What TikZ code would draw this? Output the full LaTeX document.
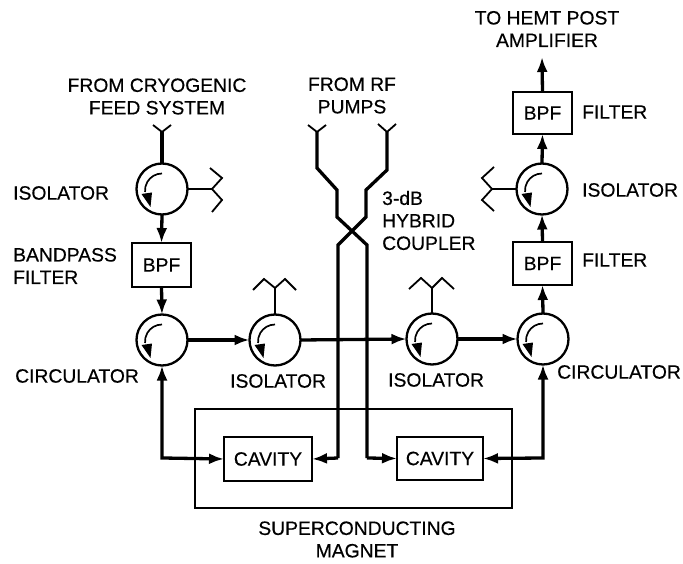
\documentclass[tikz,border=0pt]{standalone}
\usepackage{fontspec}
\setmainfont{Liberation Sans}[BoldFont={Liberation Sans},BoldFeatures={FakeBold=0.4}]
\usetikzlibrary{arrows.meta}
\tikzset{
  x=1pt,y=-1pt,
  lbl/.style={font=\fontsize{19.3}{22.5}\selectfont\bfseries,inner sep=0pt,align=left,anchor=west,text=black},
  lblc/.style={lbl,align=center,anchor=center},
  port/.style={circle,draw,line width=2.3pt,minimum size=51pt,inner sep=0pt,outer sep=0pt},
  boxa/.style={draw,line width=2.2pt,inner sep=0pt,outer sep=0pt,font=\fontsize{19.3}{22}\selectfont\bfseries},
  wire/.style={line width=3.3pt,line join=miter},
  thin wire/.style={line width=2.6pt,line join=miter},
  horn/.style={line width=1.8pt,line join=miter},
  tip/.style={-{Latex[length=15pt,width=11pt]}},
  tips/.style={{Latex[length=15pt,width=11pt]}-{Latex[length=15pt,width=11pt]}},
}
\newcommand{\swirl}[1]{%
  \draw[line width=1.7pt,shift={(#1)}] (0,-15.5) arc[start angle=-90,end angle=-185,radius=17];
  \fill[shift={(#1)}] (-20.5,5) -- (-11.5,18) -- (-10,3.5) -- cycle;
}
\begin{document}
\begin{tikzpicture}
\useasboundingbox (0,0) rectangle (683,564);
\fill[white] (0,0) rectangle (683,564);

% ports
\node[port] (iso1) at (162,189) {};
\node[port] (circ1) at (162,340) {};
\node[port] (iso2) at (275,340) {};
\node[port] (iso3) at (432,339) {};
\node[port] (circ2) at (543,339) {};
\node[port] (iso4) at (542,189) {};
\swirl{iso1}\swirl{circ1}\swirl{iso2}\swirl{iso3}\swirl{circ2}\swirl{iso4}

% boxes
\node[boxa,minimum width=59pt,minimum height=44pt] (bpf1) at (161.5,265) {BPF};
\node[boxa,minimum width=59pt,minimum height=43pt] (bpf2) at (542.5,263.5) {BPF};
\node[boxa,minimum width=59pt,minimum height=42pt] (bpf3) at (542.5,113) {BPF};
\node[boxa,minimum width=88pt,minimum height=44pt] (cav1) at (268,459) {CAVITY};
\node[boxa,minimum width=86pt,minimum height=43pt] (cav2) at (440,458.5) {CAVITY};
\node[draw,line width=2.4pt,minimum width=317pt,minimum height=99pt,inner sep=0pt,outer sep=0pt] (mag) at (353.5,458.5) {};

% free ends and corners
\coordinate (feed) at (162,132);
\coordinate (out) at (542,57);
\coordinate (pa) at (317,132);
\coordinate (pa1) at (317,168);
\coordinate (pa2) at (337,190);
\coordinate (pa3) at (337,217);
\coordinate (pa4) at (367,245);
\coordinate (pa5) at (367,458);
\coordinate (pb) at (387,132);
\coordinate (pb1) at (387,170);
\coordinate (pb2) at (366,190);
\coordinate (pb3) at (366,217);
\coordinate (pb4) at (338,245);
\coordinate (pb5) at (338,458);
\coordinate (cl) at (163,458);
\coordinate (cr) at (543,458);
\coordinate (h1) at (212,189);
\coordinate (h2) at (275,288);
\coordinate (h3) at (432,288);
\coordinate (h4) at (492,189);

% connectors
\draw[wire] (feed) -- (iso1.north);
\draw[wire,tip] (iso1.south) -- (bpf1.north);
\draw[wire,tip] (bpf1.south) -- (circ1.north);
\draw[wire,tip] (circ1.east) -- (iso2.west);
\draw[wire,tip] (iso2.east) -- (iso3.west);
\draw[wire,tip] (iso3.east) -- (circ2.west);
\draw[wire,tip] (circ2.north) -- (bpf2.south);
\draw[wire,tip] (bpf2.north) -- (iso4.south);
\draw[wire,tip] (iso4.north) -- (bpf3.south);
\draw[wire,tip] (bpf3.north) -- (out);
\draw[wire] (pa) -- (pa1) -- (pa2) -- (pa3) -- (pa4) -- (pa5);
\draw[wire,tip] (pa5) -- (cav2.west);
\draw[wire] (pb) -- (pb1) -- (pb2) -- (pb3) -- (pb4) -- (pb5);
\draw[wire,tip] (pb5) -- (cav1.east);
\draw[wire,tips] (circ1.south) -- (circ1.south |- cl) -- (cl) -- (cav1.west);
\draw[wire,tips] (circ2.south) -- (circ2.south |- cr) -- (cr) -- (cav2.east);
\draw[thin wire] (iso1.east) -- (h1);
\draw[thin wire] (iso4.west) -- (h4);
\draw[thin wire] (iso2.north) -- (h2);
\draw[thin wire] (iso3.north) -- (h3);

% horns
\draw[horn] (153,125) -- (feed) -- (171,125);
\draw[horn] (308,125) -- (pa) -- (326,125);
\draw[horn] (378,124) -- (pb) -- (396,124);
\draw[horn] (210,168) -- (222,178) -- (h1) -- (222,200) -- (212,212);
\draw[horn] (494,167) -- (482,178) -- (h4) -- (482,200) -- (494,211);
\draw[horn] (253,290) -- (264,279) -- (h2) -- (285,279) -- (296,290);
\draw[horn] (409,289) -- (421,278) -- (h3) -- (442,278) -- (454,289);

% labels
\node[lblc] (t1) at (157,96.5) {FROM CRYOGENIC\\FEED SYSTEM};
\node[lblc] (t2) at (352,95.5) {FROM RF\\PUMPS};
\node[lblc] (t3) at (547,29) {TO HEMT POST\\AMPLIFIER};
\node[lbl] (t4) at (13,193) {ISOLATOR};
\node[lbl] (t5) at (13,266) {BANDPASS\\FILTER};
\node[lbl] (t6) at (15,376) {CIRCULATOR};
\node[lbl] (t7) at (230,381) {ISOLATOR};
\node[lbl] (t8) at (388,380) {ISOLATOR};
\node[lbl] (t9) at (557,372) {CIRCULATOR};
\node[lbl] (t10) at (382,220.5) {3-dB\\HYBRID\\COUPLER};
\node[lbl] (t11) at (582,112) {FILTER};
\node[lbl] (t12) at (582,260) {FILTER};
\node[lbl] (t13) at (582,190) {ISOLATOR};
\node[lblc] (t14) at (357,539.5) {SUPERCONDUCTING\\MAGNET};
\end{tikzpicture}
\end{document}
